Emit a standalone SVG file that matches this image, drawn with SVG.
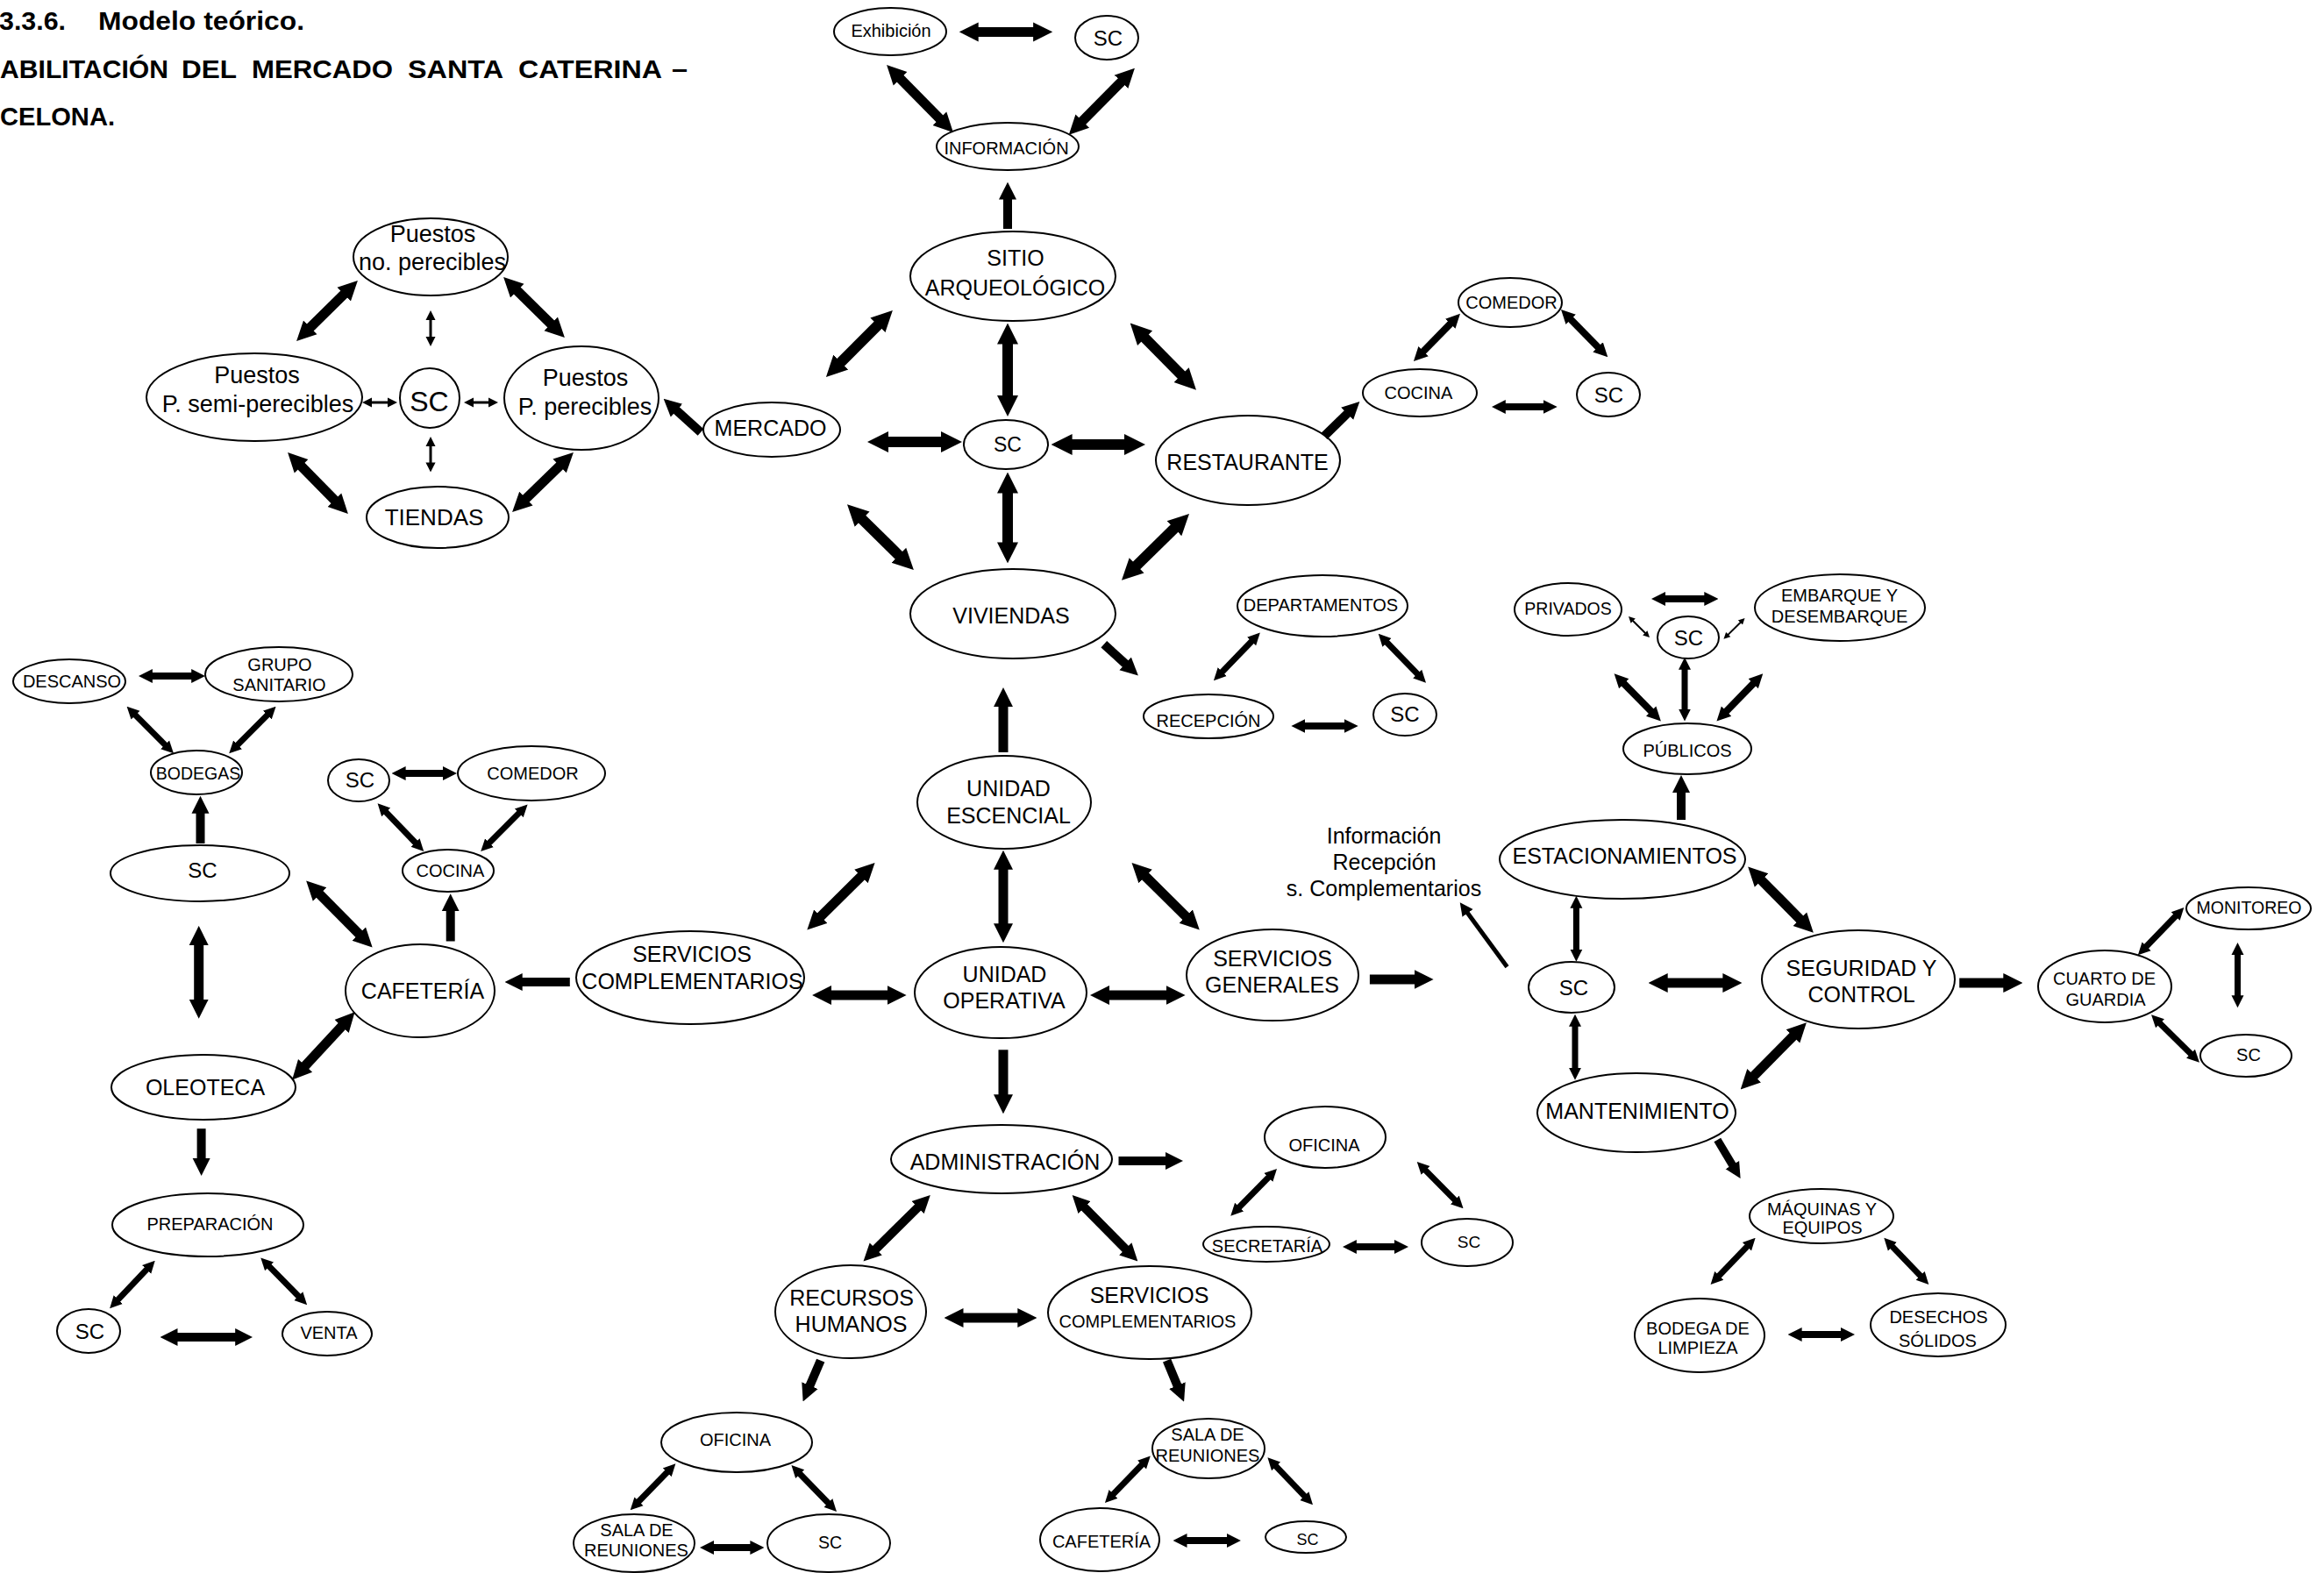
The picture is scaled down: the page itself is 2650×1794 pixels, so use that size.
<svg xmlns="http://www.w3.org/2000/svg" width="2650" height="1794" viewBox="0 0 2650 1794">
<defs>
<style>
text{font-family:"Liberation Sans",Arial,Helvetica,sans-serif;fill:#000;text-anchor:middle}
.node ellipse{fill:#fff;stroke:#000;stroke-width:2}
.ttl{font-weight:bold;font-size:30px;text-anchor:start}
.f18{font-size:18px}.f19{font-size:19px}.f195{font-size:19.5px}.f20{font-size:20px}
.f23{font-size:23px}.f24{font-size:24px}.f25{font-size:25px}.f26{font-size:26px}
.f27{font-size:27px}.f32{font-size:32px}
#connectors line{stroke:#000;fill:none;stroke-linecap:butt}
.d{marker-start:url(#h);marker-end:url(#h)}
.e{marker-end:url(#h)}
.dt{marker-start:url(#t);marker-end:url(#t)}
.el{marker-end:url(#hl)}
.w12{stroke-width:12}.w11{stroke-width:11}.w10{stroke-width:10}.w9{stroke-width:9}
.w8{stroke-width:8}.w7{stroke-width:7}.w5{stroke-width:5}.w3{stroke-width:3}.w2{stroke-width:2}
</style>
<!-- filled triangular heads; size follows the stroke width of the shaft -->
<marker id="h" viewBox="0 0 10 10" refX="1" refY="5" markerWidth="2" markerHeight="3.2" orient="auto-start-reverse" markerUnits="strokeWidth">
<path d="M0,0L10,5L0,10z" fill="#000"/>
</marker>
<marker id="t" viewBox="0 0 10 10" refX="1" refY="5" markerWidth="3.7" markerHeight="6.7" orient="auto-start-reverse" markerUnits="strokeWidth">
<path d="M0,0L10,5L0,10z" fill="#000"/>
</marker>
<marker id="hl" viewBox="0 0 10 10" refX="1" refY="5" markerWidth="3" markerHeight="4" orient="auto-start-reverse" markerUnits="strokeWidth">
<path d="M0,0L10,5L0,10z" fill="#000"/>
</marker>
</defs>

<rect width="2650" height="1794" fill="#fff"/>

<!-- heading -->
<g id="heading">
<text class="ttl" x="-1" y="34" textLength="76" lengthAdjust="spacingAndGlyphs">3.3.6.</text>
<text class="ttl" x="112" y="34" textLength="235" lengthAdjust="spacingAndGlyphs">Modelo teórico.</text>
<text class="ttl" x="0" y="89" textLength="192" lengthAdjust="spacingAndGlyphs">ABILITACIÓN</text>
<text class="ttl" x="207" y="89" textLength="63" lengthAdjust="spacingAndGlyphs">DEL</text>
<text class="ttl" x="287" y="89" textLength="161" lengthAdjust="spacingAndGlyphs">MERCADO</text>
<text class="ttl" x="465" y="89" textLength="109" lengthAdjust="spacingAndGlyphs">SANTA</text>
<text class="ttl" x="591" y="89" textLength="164" lengthAdjust="spacingAndGlyphs">CATERINA</text>
<text class="ttl" x="766" y="89" textLength="18" lengthAdjust="spacingAndGlyphs">–</text>
<text class="ttl" x="0" y="143" textLength="131" lengthAdjust="spacingAndGlyphs">CELONA.</text>
</g>

<g id="nodes">
<!-- market stalls -->
<g id="n-puestos-no" class="node"><ellipse cx="491" cy="293" rx="88" ry="44"/><text class="f27"><tspan x="493.5" y="276">Puestos</tspan><tspan x="493" y="308">no. perecibles</tspan></text></g>
<g id="n-puestos-semi" class="node"><ellipse cx="290" cy="453" rx="123" ry="50"/><text class="f27"><tspan x="293" y="437">Puestos</tspan><tspan x="294" y="470">P. semi-perecibles</tspan></text></g>
<g id="n-sc-puestos" class="node"><ellipse cx="490" cy="454" rx="34" ry="34"/><text class="f32" x="489.5" y="468.5">SC</text></g>
<g id="n-puestos-p" class="node"><ellipse cx="663" cy="454" rx="88" ry="59"/><text class="f27"><tspan x="667.5" y="440">Puestos</tspan><tspan x="667" y="472.5">P. perecibles</tspan></text></g>
<g id="n-tiendas" class="node"><ellipse cx="499" cy="590" rx="81" ry="35"/><text class="f26" x="495" y="599">TIENDAS</text></g>
<g id="n-mercado" class="node"><ellipse cx="880" cy="490" rx="78" ry="31"/><text class="f25" x="878.5" y="497">MERCADO</text></g>

<!-- archaeological site -->
<g id="n-exhibicion" class="node"><ellipse cx="1015" cy="36" rx="64" ry="27"/><text class="f20" x="1016" y="41.5">Exhibición</text></g>
<g id="n-sc-info" class="node"><ellipse cx="1262" cy="43" rx="36" ry="25"/><text class="f24" x="1263.5" y="51.5">SC</text></g>
<g id="n-informacion" class="node"><ellipse cx="1149" cy="167" rx="81" ry="27"/><text class="f20" x="1147.5" y="176">INFORMACIÓN</text></g>
<g id="n-sitio" class="node"><ellipse cx="1155" cy="315" rx="117" ry="51"/><text class="f25"><tspan x="1158" y="302.5">SITIO</tspan><tspan x="1157.5" y="337">ARQUEOLÓGICO</tspan></text></g>
<g id="n-sc-hub" class="node"><ellipse cx="1147" cy="507" rx="48" ry="28"/><text class="f23" x="1149" y="515">SC</text></g>
<g id="n-restaurante" class="node"><ellipse cx="1423" cy="525" rx="105" ry="51"/><text class="f25" x="1422.5" y="536">RESTAURANTE</text></g>
<g id="n-comedor-r" class="node"><ellipse cx="1722" cy="345" rx="59" ry="28"/><text class="f20" x="1723.5" y="352">COMEDOR</text></g>
<g id="n-cocina-r" class="node"><ellipse cx="1619" cy="448" rx="65" ry="27"/><text class="f20" x="1617.5" y="455">COCINA</text></g>
<g id="n-sc-r" class="node"><ellipse cx="1834" cy="450" rx="36" ry="25"/><text class="f24" x="1834.5" y="459">SC</text></g>

<!-- housing -->
<g id="n-viviendas" class="node"><ellipse cx="1155" cy="700" rx="117" ry="51"/><text class="f25" x="1153" y="711">VIVIENDAS</text></g>
<g id="n-departamentos" class="node"><ellipse cx="1508" cy="691" rx="97" ry="35"/><text class="f20" x="1506" y="697">DEPARTAMENTOS</text></g>
<g id="n-recepcion" class="node"><ellipse cx="1378" cy="817" rx="74" ry="25"/><text class="f20" x="1378" y="829">RECEPCIÓN</text></g>
<g id="n-sc-v" class="node"><ellipse cx="1602" cy="815" rx="36" ry="24"/><text class="f24" x="1602" y="823">SC</text></g>

<!-- parking -->
<g id="n-privados" class="node"><ellipse cx="1788" cy="695" rx="61" ry="30"/><text class="f195" x="1788" y="701">PRIVADOS</text></g>
<g id="n-sc-p" class="node"><ellipse cx="1925" cy="727" rx="35" ry="24"/><text class="f24" x="1925.5" y="735.5">SC</text></g>
<g id="n-embarque" class="node"><ellipse cx="2098" cy="693" rx="97" ry="38"/><text class="f20"><tspan x="2097.5" y="686">EMBARQUE Y</tspan><tspan x="2097.5" y="710">DESEMBARQUE</tspan></text></g>
<g id="n-publicos" class="node"><ellipse cx="1924" cy="854" rx="73" ry="29"/><text class="f20" x="1924" y="863">PÚBLICOS</text></g>

<!-- complementary services, left side -->
<g id="n-descanso" class="node"><ellipse cx="79" cy="777" rx="64" ry="25"/><text class="f20" x="82" y="784">DESCANSO</text></g>
<g id="n-grupo" class="node"><ellipse cx="318" cy="769" rx="84" ry="31"/><text class="f20"><tspan x="319" y="765">GRUPO</tspan><tspan x="318.5" y="788">SANITARIO</tspan></text></g>
<g id="n-bodegas" class="node"><ellipse cx="224" cy="881" rx="52" ry="25"/><text class="f195" x="226" y="889">BODEGAS</text></g>
<g id="n-sc-o" class="node"><ellipse cx="228" cy="996" rx="102" ry="32"/><text class="f24" x="231" y="1001">SC</text></g>
<g id="n-sc-c" class="node"><ellipse cx="409" cy="890" rx="35" ry="24"/><text class="f24" x="410.5" y="897.5">SC</text></g>
<g id="n-comedor-c" class="node"><ellipse cx="606" cy="882" rx="84" ry="31"/><text class="f20" x="607.5" y="889">COMEDOR</text></g>
<g id="n-cocina-c" class="node"><ellipse cx="511" cy="993" rx="52" ry="24"/><text class="f20" x="513.5" y="1000">COCINA</text></g>
<g id="n-cafeteria" class="node"><ellipse cx="479" cy="1130" rx="85" ry="53"/><text class="f25" x="482" y="1139">CAFETERÍA</text></g>
<g id="n-oleoteca" class="node"><ellipse cx="232" cy="1240" rx="105" ry="37"/><text class="f25" x="234" y="1249">OLEOTECA</text></g>
<g id="n-serv-compl" class="node"><ellipse cx="787" cy="1115" rx="130" ry="53"/><text class="f25"><tspan x="789" y="1097">SERVICIOS</tspan><tspan x="789.5" y="1128">COMPLEMENTARIOS</tspan></text></g>
<g id="n-preparacion" class="node"><ellipse cx="237" cy="1397" rx="109" ry="36"/><text class="f20" x="239.5" y="1403">PREPARACIÓN</text></g>
<g id="n-sc-pr" class="node"><ellipse cx="101" cy="1518" rx="36" ry="25"/><text class="f24" x="102.5" y="1527">SC</text></g>
<g id="n-venta" class="node"><ellipse cx="373" cy="1521" rx="51" ry="25"/><text class="f20" x="375" y="1527">VENTA</text></g>

<!-- central spine -->
<g id="n-ue" class="node"><ellipse cx="1145" cy="915" rx="99" ry="53"/><text class="f25"><tspan x="1150" y="908">UNIDAD</tspan><tspan x="1150" y="939">ESCENCIAL</tspan></text></g>
<g id="n-uo" class="node"><ellipse cx="1141" cy="1132" rx="98" ry="52"/><text class="f25"><tspan x="1145.5" y="1120">UNIDAD</tspan><tspan x="1145" y="1150">OPERATIVA</tspan></text></g>
<g id="n-sg" class="node"><ellipse cx="1451" cy="1112" rx="98" ry="52"/><text class="f25"><tspan x="1451" y="1102">SERVICIOS</tspan><tspan x="1450.5" y="1132">GENERALES</tspan></text></g>
<g id="n-info-note"><text class="f25"><tspan x="1578" y="962">Información</tspan><tspan x="1578.5" y="992">Recepción</tspan><tspan x="1578" y="1022">s. Complementarios</tspan></text></g>

<!-- general services -->
<g id="n-estac" class="node"><ellipse cx="1850" cy="980" rx="140" ry="45"/><text class="f25" x="1852.5" y="985">ESTACIONAMIENTOS</text></g>
<g id="n-sc-e" class="node"><ellipse cx="1792" cy="1126" rx="49" ry="29"/><text class="f24" x="1794.5" y="1135">SC</text></g>
<g id="n-seguridad" class="node"><ellipse cx="2119" cy="1117" rx="110" ry="56"/><text class="f25"><tspan x="2122.5" y="1113">SEGURIDAD Y</tspan><tspan x="2122.5" y="1143">CONTROL</tspan></text></g>
<g id="n-cuarto" class="node"><ellipse cx="2400" cy="1125" rx="76" ry="41"/><text class="f20"><tspan x="2399.5" y="1123">CUARTO DE</tspan><tspan x="2401" y="1147">GUARDIA</tspan></text></g>
<g id="n-monitoreo" class="node"><ellipse cx="2564" cy="1036" rx="71" ry="24"/><text class="f195" x="2564.5" y="1042">MONITOREO</text></g>
<g id="n-sc-g" class="node"><ellipse cx="2561" cy="1204" rx="52" ry="24"/><text class="f20" x="2564" y="1210">SC</text></g>
<g id="n-mant" class="node"><ellipse cx="1866" cy="1269" rx="113" ry="45"/><text class="f25" x="1867" y="1276">MANTENIMIENTO</text></g>
<g id="n-maquinas" class="node"><ellipse cx="2077" cy="1387" rx="82" ry="31"/><text class="f20"><tspan x="2077.5" y="1386">MÁQUINAS Y</tspan><tspan x="2078" y="1407">EQUIPOS</tspan></text></g>
<g id="n-bodega-l" class="node"><ellipse cx="1938" cy="1523" rx="74" ry="42"/><text class="f20"><tspan x="1936" y="1522">BODEGA DE</tspan><tspan x="1936" y="1544">LIMPIEZA</tspan></text></g>
<g id="n-desechos" class="node"><ellipse cx="2210" cy="1511" rx="77" ry="36"/><text class="f20"><tspan x="2210.5" y="1509">DESECHOS</tspan><tspan x="2209.5" y="1536">SÓLIDOS</tspan></text></g>

<!-- administration -->
<g id="n-admin" class="node"><ellipse cx="1142" cy="1322" rx="126" ry="39"/><text class="f25" x="1146" y="1334">ADMINISTRACIÓN</text></g>
<g id="n-oficina-a" class="node"><ellipse cx="1511" cy="1297" rx="69" ry="35"/><text class="f20" x="1510" y="1313">OFICINA</text></g>
<g id="n-secretaria" class="node"><ellipse cx="1444" cy="1419" rx="72" ry="20"/><text class="f20" x="1445" y="1428">SECRETARÍA</text></g>
<g id="n-sc-a" class="node"><ellipse cx="1673" cy="1417" rx="52" ry="27"/><text class="f19" x="1675" y="1423">SC</text></g>
<g id="n-rh" class="node"><ellipse cx="970" cy="1496" rx="86" ry="53"/><text class="f25"><tspan x="971" y="1489">RECURSOS</tspan><tspan x="970.5" y="1519">HUMANOS</tspan></text></g>
<g id="n-serv-b" class="node"><ellipse cx="1311" cy="1497" rx="116" ry="53"/><text class="f25" x="1310.5" y="1486">SERVICIOS</text><text class="f20" x="1308.5" y="1514">COMPLEMENTARIOS</text></g>
<g id="n-oficina-rh" class="node"><ellipse cx="840" cy="1645" rx="86" ry="34"/><text class="f20" x="838.5" y="1649">OFICINA</text></g>
<g id="n-sala-rh" class="node"><ellipse cx="723" cy="1760" rx="69" ry="33"/><text class="f20"><tspan x="726" y="1752">SALA DE</tspan><tspan x="725.5" y="1775">REUNIONES</tspan></text></g>
<g id="n-sc-rh" class="node"><ellipse cx="945" cy="1760" rx="70" ry="33"/><text class="f195" x="946.5" y="1766">SC</text></g>
<g id="n-sala-b" class="node"><ellipse cx="1378" cy="1652" rx="64" ry="34"/><text class="f20"><tspan x="1377" y="1643">SALA DE</tspan><tspan x="1377" y="1667">REUNIONES</tspan></text></g>
<g id="n-cafeteria-b" class="node"><ellipse cx="1254" cy="1756" rx="68" ry="36"/><text class="f20" x="1256" y="1765">CAFETERÍA</text></g>
<g id="n-sc-b" class="node"><ellipse cx="1489" cy="1753" rx="46" ry="18"/><text class="f18" x="1491" y="1762">SC</text></g>
</g>

<g id="connectors">
<!-- market stalls -->
<line class="d w11" x1="352.2" y1="375" x2="393.8" y2="334"/>
<line class="d w11" x1="588.2" y1="330" x2="629.8" y2="371"/>
<line class="d w11" x1="342" y1="530.2" x2="383" y2="571.8"/>
<line class="d w11" x1="598.3" y1="570.1" x2="639.7" y2="529.9"/>
<line class="dt w3" x1="491" y1="364" x2="491" y2="385"/>
<line class="dt w3" x1="491" y1="508" x2="491" y2="528.5"/>
<line class="dt w3" x1="423" y1="459" x2="443" y2="459"/>
<line class="dt w3" x1="539" y1="459" x2="558" y2="459"/>
<line class="e w10" x1="799" y1="493" x2="770" y2="466.8"/>
<!-- archaeological site and hub -->
<line class="d w11" x1="1113.5" y1="36.4" x2="1180.3" y2="36.4"/>
<line class="d w11" x1="1025" y1="88.2" x2="1073" y2="136.8"/>
<line class="d w11" x1="1280" y1="91.8" x2="1232.7" y2="139.7"/>
<line class="e w10" x1="1149" y1="261" x2="1149" y2="225.6"/>
<line class="d w12" x1="1149" y1="390.1" x2="1149" y2="453.4"/>
<line class="d w12" x1="1002.6" y1="369.2" x2="957.2" y2="414.7"/>
<line class="d w12" x1="1303.9" y1="383.9" x2="1348.8" y2="429.4"/>
<line class="d w12" x1="1010.6" y1="504" x2="1075.4" y2="504"/>
<line class="d w12" x1="1220.2" y1="507" x2="1284.4" y2="507"/>
<line class="d w12" x1="1149" y1="560.1" x2="1149" y2="620.8"/>
<line class="d w12" x1="981.4" y1="590.4" x2="1026.5" y2="634.9"/>
<line class="d w12" x1="1340.6" y1="601.1" x2="1294.4" y2="646.5"/>
<!-- restaurant -->
<line class="e w10" x1="1510" y1="497.4" x2="1537.5" y2="470.5"/>
<line class="d w8" x1="1654.9" y1="368.1" x2="1622" y2="401.7"/>
<line class="d w8" x1="1790.1" y1="363.3" x2="1823.2" y2="397"/>
<line class="d w8" x1="1715.2" y1="464" x2="1761.3" y2="464"/>
<!-- housing -->
<line class="e w10" x1="1258.8" y1="734.8" x2="1284.6" y2="758.3"/>
<line class="d w7" x1="1428.1" y1="730.5" x2="1392.7" y2="767.2"/>
<line class="d w7" x1="1580.5" y1="731.8" x2="1617.2" y2="769.6"/>
<line class="d w8" x1="1486.8" y1="828" x2="1534.3" y2="828"/>
<!-- parking -->
<line class="d w8" x1="1897.4" y1="683" x2="1944.9" y2="683"/>
<line class="dt w2" x1="1861.7" y1="707.7" x2="1876.3" y2="722.3"/>
<line class="dt w2" x1="1970.2" y1="724.1" x2="1984.8" y2="709.7"/>
<line class="d w7" x1="1921" y1="762.3" x2="1921" y2="809.9"/>
<line class="d w8" x1="1850.7" y1="778.6" x2="1883.8" y2="812.2"/>
<line class="d w8" x1="2000.2" y1="778.6" x2="1967.5" y2="812.2"/>
<line class="e w10" x1="1917" y1="935" x2="1917" y2="902"/>
<!-- left side services -->
<line class="d w8" x1="172.3" y1="771" x2="219.8" y2="771"/>
<line class="d w7" x1="153.5" y1="814.6" x2="189.1" y2="850.4"/>
<line class="d w7" x1="305.7" y1="814.6" x2="270.1" y2="850.4"/>
<line class="e w10" x1="228.5" y1="962" x2="228.5" y2="925.8"/>
<line class="d w11" x1="226.7" y1="1075.7" x2="226.7" y2="1142"/>
<line class="d w8" x1="461" y1="882" x2="506.6" y2="882"/>
<line class="d w7" x1="439.3" y1="925.4" x2="474.5" y2="962"/>
<line class="d w7" x1="592.7" y1="926.4" x2="557.1" y2="962.1"/>
<line class="e w10" x1="513.7" y1="1073.5" x2="513.7" y2="1037.2"/>
<line class="d w11" x1="363.1" y1="1018.5" x2="410.7" y2="1066.5"/>
<line class="d w11" x1="391.1" y1="1168.9" x2="346.6" y2="1217"/>
<line class="e w10" x1="649.8" y1="1120" x2="593.7" y2="1120"/>
<line class="e w10" x1="229.6" y1="1287.2" x2="229.6" y2="1323"/>
<line class="d w7" x1="168.1" y1="1446.9" x2="133.8" y2="1483.2"/>
<line class="d w7" x1="306.1" y1="1443.4" x2="341.3" y2="1479.2"/>
<line class="d w10" x1="200.5" y1="1525" x2="270.2" y2="1525"/>
<!-- central spine -->
<line class="e w11" x1="1144" y1="858" x2="1144" y2="803.9"/>
<line class="d w11" x1="1144" y1="989.6" x2="1144" y2="1055.4"/>
<line class="d w11" x1="983.5" y1="998" x2="934.4" y2="1046.6"/>
<line class="d w11" x1="1304.6" y1="998" x2="1353.7" y2="1046.6"/>
<line class="d w11" x1="945.9" y1="1135" x2="1013.8" y2="1135"/>
<line class="d w11" x1="1262.8" y1="1135" x2="1331.8" y2="1135"/>
<line class="e w11" x1="1561.9" y1="1117" x2="1614.8" y2="1117"/>
<line class="e w11" x1="1144" y1="1197.3" x2="1144" y2="1250.5"/>
<line class="el w5" x1="1718.5" y1="1102.7" x2="1672.7" y2="1040.2"/>
<!-- general services -->
<line class="d w7" x1="1797.4" y1="1034.3" x2="1797.4" y2="1084.1"/>
<line class="d w7" x1="1796" y1="1169.3" x2="1796" y2="1219.1"/>
<line class="d w11" x1="1899.5" y1="1121" x2="1966.6" y2="1121"/>
<line class="d w11" x1="2007.1" y1="1002.5" x2="2053.9" y2="1049.8"/>
<line class="d w11" x1="2046" y1="1180.3" x2="1998.6" y2="1228.4"/>
<line class="e w11" x1="2234.2" y1="1121" x2="2286.5" y2="1121"/>
<line class="d w7" x1="2446.6" y1="1080.3" x2="2481.6" y2="1044"/>
<line class="d w7" x1="2551.5" y1="1087.6" x2="2551.5" y2="1136.7"/>
<line class="d w7" x1="2462" y1="1166.2" x2="2499" y2="1202.8"/>
<line class="e w9" x1="1958.3" y1="1300" x2="1976.3" y2="1330.1"/>
<line class="d w7" x1="1992.9" y1="1420.8" x2="1959.3" y2="1455.9"/>
<line class="d w7" x1="2157" y1="1420.8" x2="2190.6" y2="1455.9"/>
<line class="d w8" x1="2053" y1="1522" x2="2100.6" y2="1522"/>
<!-- administration -->
<line class="e w10" x1="1275.5" y1="1324" x2="1331" y2="1324"/>
<line class="d w7" x1="1447.2" y1="1342" x2="1412.1" y2="1377.7"/>
<line class="d w7" x1="1624.6" y1="1333.9" x2="1659.7" y2="1369.4"/>
<line class="d w8" x1="1545.3" y1="1422" x2="1591.6" y2="1422"/>
<line class="d w10" x1="1048" y1="1375.7" x2="997.3" y2="1425.9"/>
<line class="d w10" x1="1235.3" y1="1375.8" x2="1284.7" y2="1425.8"/>
<line class="d w11" x1="1096.3" y1="1503" x2="1162.5" y2="1503"/>
<line class="e w10" x1="935.7" y1="1551.6" x2="922.7" y2="1582"/>
<line class="e w10" x1="1330.6" y1="1551.6" x2="1343.2" y2="1582"/>
<line class="d w7" x1="761.6" y1="1678.3" x2="727.5" y2="1713.3"/>
<line class="d w7" x1="911.2" y1="1680" x2="945.2" y2="1715"/>
<line class="d w8" x1="812.4" y1="1765" x2="857" y2="1765"/>
<line class="d w7" x1="1303" y1="1669.5" x2="1268.7" y2="1704.9"/>
<line class="d w7" x1="1454.1" y1="1671.3" x2="1488.3" y2="1707.2"/>
<line class="d w8" x1="1351.9" y1="1757" x2="1400.5" y2="1757"/>
</g>
</svg>
